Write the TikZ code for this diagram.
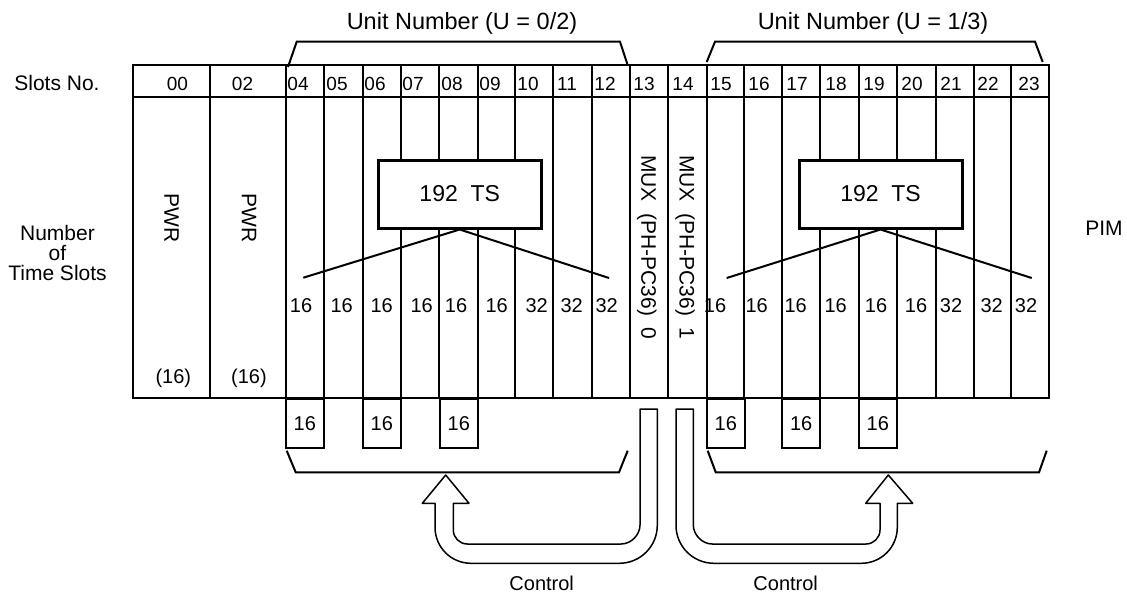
\documentclass[tikz,border=0pt]{standalone}
\usepackage{fontspec}
\setmainfont{Liberation Sans}
\begin{document}
\begin{tikzpicture}[x=1pt,y=-1pt,
  line/.style={line width=2pt},
  thinline/.style={line width=1.5pt, line join=round},
  txt/.style={inner sep=0pt, anchor=base, font=\fontsize{21}{21}\selectfont},
  slot/.style={inner sep=0pt, anchor=base, font=\fontsize{19}{19}\selectfont},
  num/.style={inner sep=0pt, anchor=base, font=\fontsize{20}{20}\selectfont},
  title/.style={inner sep=0pt, anchor=base, font=\fontsize{23.5}{23.5}\selectfont},
  rot/.style={inner sep=0pt, rotate=-90, font=\fontsize{21}{21}\selectfont},
  tsbox/.style={draw, fill=white, line width=3pt, minimum width=163pt, minimum height=68pt, inner sep=0pt, font=\fontsize{23}{23}\selectfont},
  smallbox/.style={draw, line width=2pt, minimum width=38.3pt, minimum height=48.7pt, inner sep=0pt, font=\fontsize{20}{20}\selectfont}
]
\useasboundingbox (0,0) rectangle (1127,594);

% ---- main shelf ----
\foreach \x in {210,285.7,324,362.7,400.7,439.3,477.7,515,553.3,592.3,630,668.3,707.3,744.3,782.3,820,859,896.7,935.7,974,1011}
  \draw[line] (\x,65) -- (\x,398);
\draw[line] (133,65) rectangle (1049,398);
\draw[line] (133,97) -- (1049,97);

% ---- slot numbers ----
\foreach \x/\t in {177.5/00,242.5/02,298/04,337/05,375/06,413/07,452/08,490/09,528/10,567/11,605/12,644/13,683/14,721/15,759/16,797/17,836/18,874/19,912/20,951/21,988/22,1029/23}
  \node[slot] (s\t) at (\x,90) {\t};

% ---- left and right labels ----
\node[txt] (slotsno) at (57,90) {Slots No.};
\node[txt] (lab1) at (57.5,240) {Number};
\node[txt] (lab2) at (57.5,260) {of};
\node[txt] (lab3) at (57.5,280) {Time Slots};
\node[txt] (pim) at (1104,235) {PIM};

% ---- titles and top brackets ----
\node[title] (titleL) at (462,30) {Unit Number (U = 0/2)};
\node[title] (titleR) at (873,30) {Unit Number (U = 1/3)};
\draw[line, line join=miter] (288,67) -- (296.7,41.7) -- (620,41.7) -- (627.3,64);
\draw[line, line join=miter] (706.7,62) -- (715,41.7) -- (1035,41.7) -- (1042.7,62);

% ---- PWR ----
\node[rot] (pwr0) at (171.7,218) {PWR};
\node[rot] (pwr2) at (249,218) {PWR};
\node[num] (p0) at (173.3,383) {(16)};
\node[num] (p2) at (249,383) {(16)};

% ---- MUX ----
\node[rot] (mux0) at (646.7,247.5) {MUX\ \ (PH-PC36)\ \ 0};
\node[rot] (mux1) at (685,247.5) {MUX\ \ (PH-PC36)\ \ 1};

% ---- 192 TS boxes and fan-out ----
\node[tsbox] (tsL) at (459.7,194) {192\hspace{0.55em}TS};
\node[tsbox] (tsR) at (880.5,194) {192\hspace{0.55em}TS};
\coordinate (dL1) at (303.3,277.7);
\coordinate (dL2) at (609,278);
\coordinate (dR1) at (726.7,278);
\coordinate (dR2) at (1031.7,278);
\draw[line] (dL1) -- (tsL.south) -- (dL2);
\draw[line] (dR1) -- (tsR.south) -- (dR2);

% ---- time slot counts ----
\foreach \x/\t [count=\i] in {301/16,341.7/16,381.7/16,421.7/16,456/16,496.7/16,536.7/32,571.7/32,606.7/32,715/16,756.7/16,795.7/16,835.7/16,876/16,916/16,951/32,991.7/32,1026/32}
  \node[num] (c\i) at (\x,312) {\t};

% ---- small boxes below ----
\node[smallbox, anchor=north] (b04) at (304.85,398) {16};
\node[smallbox, anchor=north] (b06) at (381.85,398) {16};
\node[smallbox, anchor=north] (b08) at (458.8,398) {16};
\node[smallbox, anchor=north] (b15) at (725.8,398) {16};
\node[smallbox, anchor=north] (b17) at (801.15,398) {16};
\node[smallbox, anchor=north] (b19) at (877.85,398) {16};

% ---- bottom brackets ----
\draw[line, line join=miter] (286.7,450.7) -- (295.7,472.3) -- (619,472.3) -- (627.7,450.7);
\draw[line, line join=miter] (707.7,450.7) -- (715.7,472.3) -- (1039,472.3) -- (1046.7,450.7);

% ---- control block arrows ----
\draw[thinline] (657.3,409) -- (657.3,525.3)
  .. controls (657.3,546.3) and (640.3,563.3) .. (619.3,563.3)
  -- (471,563.3)
  .. controls (451.1,563.3) and (435,547.2) .. (435,527.3)
  -- (435,503.3) -- (422.3,503.3) -- (445.7,475) -- (469,503.3) -- (453.3,503.3)
  -- (453.3,530)
  .. controls (453.3,537.7) and (459.6,544) .. (467.3,544)
  -- (621,544)
  .. controls (631.5,544) and (640,534.5) .. (640,525)
  -- (640,409) -- cycle;
\draw[thinline] (676,409) -- (676,525.3)
  .. controls (676,546.3) and (693,563.3) .. (714,563.3)
  -- (861.3,563.3)
  .. controls (881.2,563.3) and (897.3,547.2) .. (897.3,527.3)
  -- (897.3,503.3) -- (912.7,503.3) -- (888.3,475) -- (865.7,503.3) -- (880,503.3)
  -- (880,530)
  .. controls (880,537.7) and (873.7,544) .. (866,544)
  -- (712.3,544)
  .. controls (701.8,544) and (693.3,534.5) .. (693.3,525)
  -- (693.3,409) -- cycle;
\node[num] (ctlL) at (541.7,590) {Control};
\node[num] (ctlR) at (785.7,590) {Control};
\end{tikzpicture}
\end{document}
